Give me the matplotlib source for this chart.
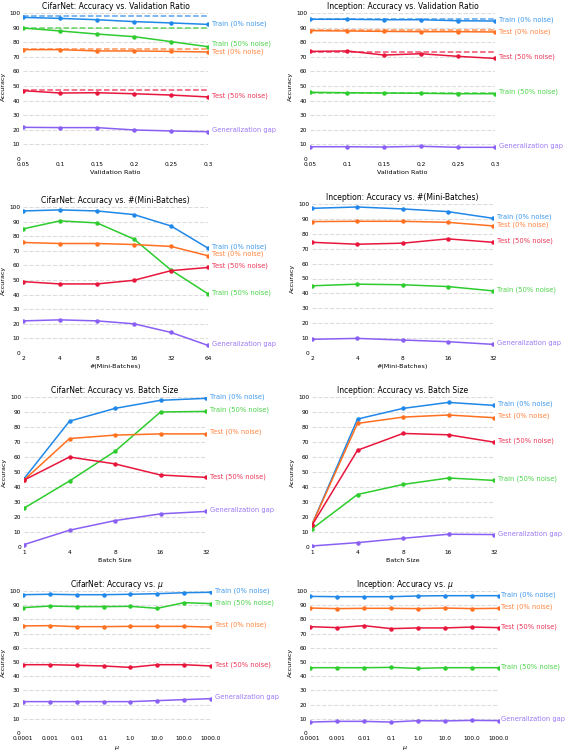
import matplotlib
matplotlib.use("Agg")
import matplotlib.pyplot as plt

# series order: train 0%, train 50%, test 0%, test 50%, gap
names = ["Train (0% noise)", "Train (50% noise)", "Test (0% noise)",
         "Test (50% noise)", "Generalization gap"]
colors = ["#2088e8", "#2ecc2e", "#ff7020", "#e8163c", "#8a60f4"]

# --- validation ratio ---
val_ratio = ["0.05", "0.1", "0.15", "0.2", "0.25", "0.3"]
cifar_val = [
    [97.0, 96.3, 95.4, 94.1, 93.2, 92.2],
    [89.7, 87.7, 85.6, 83.8, 80.4, 76.9],
    [74.9, 74.9, 74.0, 74.0, 73.7, 73.3],
    [46.8, 45.2, 45.4, 44.7, 43.8, 42.5],
    [21.7, 21.5, 21.5, 19.9, 19.2, 18.7],
]
cifar_val_base = [97.8, 90.0, 75.6, 47.5, None]
incep_val = [
    [95.7, 95.7, 95.4, 95.4, 94.7, 94.5],
    [45.7, 45.4, 45.2, 45.0, 44.7, 44.7],
    [87.9, 87.7, 87.4, 87.2, 87.2, 87.0],
    [73.7, 74.0, 71.2, 72.1, 70.3, 68.9],
    [8.4, 8.4, 8.2, 8.7, 8.0, 8.0],
]
incep_val_base = [96.1, 45.2, 88.1, 73.3, None]

# --- mini-batches ---
cifar_mb_x = ["2", "4", "8", "16", "32", "64"]
cifar_mb = [
    [97.3, 98.0, 97.3, 94.8, 87.0, 71.8],
    [85.0, 90.5, 89.1, 78.0, 56.8, 40.5],
    [75.7, 75.0, 75.0, 74.3, 73.0, 66.6],
    [48.9, 47.3, 47.3, 49.8, 56.4, 58.6],
    [22.0, 22.7, 22.0, 20.0, 14.1, 5.2],
]
incep_mb_x = ["2", "4", "8", "16", "32"]
incep_mb = [
    [97.1, 98.0, 96.7, 94.9, 90.4],
    [45.1, 46.2, 45.8, 44.6, 41.7],
    [88.2, 88.4, 88.4, 87.7, 85.3],
    [74.3, 73.0, 73.7, 76.6, 74.3],
    [9.2, 9.8, 8.7, 7.6, 5.8],
]

# --- batch size ---
batch_x = ["1", "4", "8", "16", "32"]
cifar_bs = [
    [45.5, 83.9, 92.4, 97.8, 99.1],
    [25.9, 44.0, 63.8, 90.0, 90.4],
    [44.6, 72.3, 74.6, 75.4, 75.4],
    [44.6, 60.0, 55.4, 48.0, 46.4],
    [1.6, 11.2, 17.6, 22.1, 23.7],
]
incep_bs = [
    [15.0, 85.3, 92.4, 96.4, 94.4],
    [12.1, 35.0, 41.7, 46.0, 44.4],
    [15.0, 82.4, 86.6, 88.0, 86.2],
    [14.5, 64.5, 75.7, 74.8, 69.9],
    [0.7, 2.9, 5.8, 8.5, 8.3],
]

# --- mu ---
mu_x = ["0.0001", "0.001", "0.01", "0.1", "1.0", "10.0", "100.0", "1000.0"]
cifar_mu = [
    [97.4, 97.7, 97.4, 97.4, 97.7, 98.1, 98.8, 99.1],
    [88.3, 89.4, 89.0, 89.0, 89.2, 87.8, 91.8, 91.1],
    [75.4, 75.6, 74.9, 74.9, 75.1, 75.1, 75.1, 74.6],
    [48.1, 48.1, 47.7, 47.2, 46.2, 48.1, 48.1, 47.2],
    [22.1, 22.1, 22.1, 22.1, 22.1, 22.8, 23.5, 24.2],
]
incep_mu = [
    [96.2, 96.0, 96.0, 96.0, 96.5, 96.7, 96.7, 96.7],
    [46.0, 46.0, 46.0, 46.2, 45.5, 46.0, 46.0, 46.0],
    [88.0, 87.6, 87.8, 87.8, 87.6, 88.0, 87.6, 87.8],
    [74.9, 74.2, 75.6, 73.5, 74.0, 74.0, 74.6, 74.2],
    [7.7, 8.2, 8.2, 7.7, 8.7, 8.5, 8.9, 8.7],
]

W, H = 566, 752
fig = plt.figure(figsize=(W / 100, H / 100), dpi=100)


def panel(box, xt, series, title, xlabel, label_y, base=None, pad=3):
    l, r, t, b = box
    ax = fig.add_axes([l / W, 1 - b / H, (r - l) / W, (b - t) / H])
    xs = list(range(len(xt)))
    for i, ys in enumerate(series):
        ax.plot(xs, ys, color=colors[i], lw=1.1, marker="o", ms=2.2, zorder=3)
        if base is not None and base[i] is not None:
            ax.plot([xs[0], xs[-1]], [base[i], base[i]], color=colors[i],
                    lw=1.1, ls="--", alpha=0.75, zorder=2)
        ax.annotate(names[i], (xs[-1], label_y[i]), xytext=(pad, 0),
                    textcoords="offset points", color=colors[i], alpha=0.85,
                    fontsize=4.9, va="center", ha="left", annotation_clip=False)
    ax.set_xlim(xs[0], xs[-1])
    ax.set_ylim(0, 100)
    ax.set_xticks(xs)
    ax.set_xticklabels(xt)
    ax.set_yticks(range(0, 101, 10))
    ax.tick_params(length=0, labelsize=4.2, pad=2)
    for s in ax.spines.values():
        s.set_visible(False)
    ax.grid(axis="y", color="#dcdcdc", lw=0.8, ls="--")
    ax.set_axisbelow(True)
    ax.set_title(title, fontsize=5.5, pad=3)
    ax.set_xlabel(xlabel, fontsize=4.6, labelpad=2)
    ax.set_ylabel("Accuracy", fontsize=4.6, labelpad=2)
    return ax


panel((23, 208, 13, 159), val_ratio, cifar_val,
      "CifarNet: Accuracy vs. Validation Ratio", "Validation Ratio",
      [92.7, 78.8, 73.7, 43.2, 19.6], cifar_val_base)
panel((310, 495, 13, 159), val_ratio, incep_val,
      "Inception: Accuracy vs. Validation Ratio", "Validation Ratio",
      [95.4, 46.1, 87.4, 70.3, 8.7], incep_val_base)
panel((23, 208, 207, 353), cifar_mb_x, cifar_mb,
      "CifarNet: Accuracy vs. #(Mini-Batches)", "#(Mini-Batches)",
      [72.7, 41.6, 67.7, 59.8, 6.4])
panel((312, 493, 204, 353), incep_mb_x, incep_mb,
      "Inception: Accuracy vs. #(Mini-Batches)", "#(Mini-Batches)",
      [91.5, 42.6, 86.2, 75.2, 6.5])
panel((24, 206, 397, 547), batch_x, cifar_bs,
      "CifarNet: Accuracy vs. Batch Size", "Batch Size",
      [100.2, 91.3, 76.6, 47.1, 24.8])
panel((312, 494, 397, 547), batch_x, incep_bs,
      "Inception: Accuracy vs. Batch Size", "Batch Size",
      [95.5, 45.3, 87.5, 70.8, 8.9])
panel((23, 211, 591, 733), mu_x, cifar_mu,
      r"CifarNet: Accuracy vs. $\mu$", r"$\mu$",
      [100.0, 91.8, 76.3, 48.1, 25.1])
panel((310, 499, 591, 733), mu_x, incep_mu,
      r"Inception: Accuracy vs. $\mu$", r"$\mu$",
      [97.7, 46.9, 88.7, 75.1, 9.9], pad=1.5)

fig.savefig("out.png", dpi=100)
